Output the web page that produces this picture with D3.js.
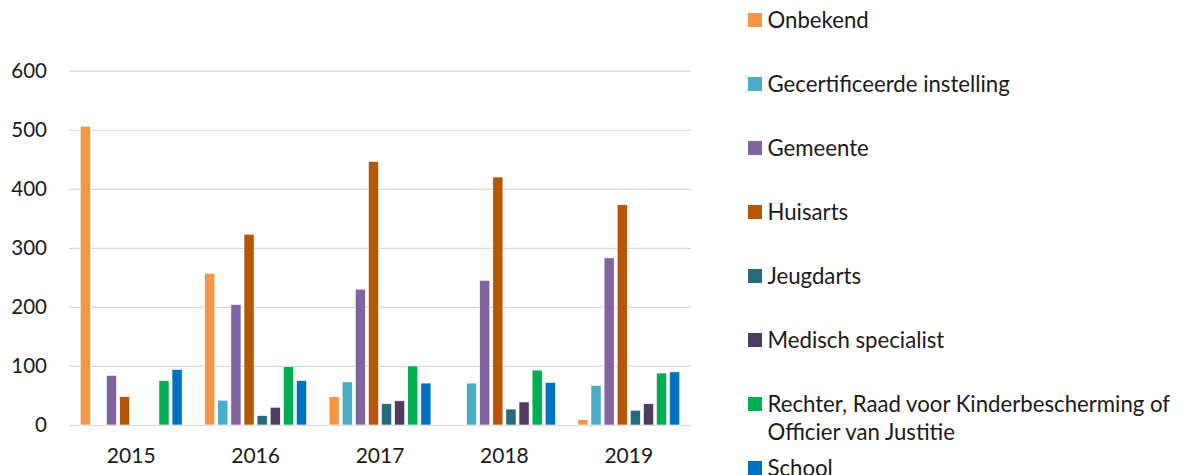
<!DOCTYPE html>
<html>
<head>
<meta charset="utf-8">
<script src="https://cdn.jsdelivr.net/npm/d3@7"></script>
<style>
  body { margin: 0; background: #fff; }
  text { font-family: Lato, "Open Sans", sans-serif; fill: #1a1a1a; }
</style>
</head>
<body>
<div id="container"></div>
<script>
// Data.
const years = ['2015', '2016', '2017', '2018', '2019'];
const series = [
  'Onbekend',
  'Gecertificeerde instelling',
  'Gemeente',
  'Huisarts',
  'Jeugdarts',
  'Medisch specialist',
  'Rechter, Raad voor Kinderbescherming of Officier van Justitie',
  'School'
];
const colours = ['#F79646', '#4BACC6', '#8064A2', '#B65708', '#276A7C', '#4D3B62', '#00B050', '#0070C0'];

// one array per series, values for 2015..2019
const onbekend = [506, 257, 48, 0, 9];
const gecertificeerd = [0, 42, 73, 71, 67];
const gemeente = [84, 204, 230, 245, 283];
const huisarts = [48, 323, 446, 420, 373];
const jeugdarts = [0, 16, 36, 27, 25];
const medisch = [0, 30, 41, 39, 36];
const rechter = [75, 99, 100, 93, 88];
const school = [94, 75, 71, 72, 90];
const values = [onbekend, gecertificeerd, gemeente, huisarts, jeugdarts, medisch, rechter, school];

const yTicks = [0, 100, 200, 300, 400, 500, 600];

const width = 1185, height = 475;
const plot = { left: 69, right: 691, top: 70.7, bottom: 425 };

const svg = d3.select('#container')
  .append('svg')
  .attr('width', width)
  .attr('height', height);

// Scales.
const x0 = d3.scaleBand()
  .domain(years)
  .range([plot.left, plot.right])
  .paddingInner(0.157)
  .paddingOuter(0.0785);

const x1 = d3.scaleBand()
  .domain(series)
  .range([0, x0.bandwidth()])
  .paddingInner(0.23)
  .paddingOuter(0.115);

const y = d3.scaleLinear()
  .domain([0, 600])
  .range([plot.bottom, plot.top]);

const colour = d3.scaleOrdinal().domain(series).range(colours);

// Gridlines + y labels.
const yAxis = svg.append('g')
  .attr('transform', `translate(${plot.left},0)`)
  .call(d3.axisLeft(y).tickValues(yTicks).tickSize(-(plot.right - plot.left)).tickPadding(22));
yAxis.select('.domain').remove();
yAxis.selectAll('.tick line').attr('stroke', '#d9d9d9').attr('stroke-width', 1.2);
yAxis.selectAll('.tick text')
  .attr('font-size', 20.5)
  .attr('font-family', 'Lato, sans-serif')
  .attr('fill', '#1a1a1a');

// X labels.
const xAxis = svg.append('g')
  .attr('transform', `translate(0,${plot.bottom})`)
  .call(d3.axisBottom(x0).tickSize(0).tickPadding(23));
xAxis.select('.domain').remove();
xAxis.selectAll('.tick text')
  .attr('font-size', 21)
  .attr('font-family', 'Lato, sans-serif')
  .attr('fill', '#1a1a1a');

// Bars.
const rows = years.map((yr, i) => ({
  year: yr,
  bars: series.map((s, j) => ({ key: s, value: values[j][i] }))
}));

svg.append('g')
  .selectAll('g')
  .data(rows)
  .join('g')
  .attr('transform', d => `translate(${x0(d.year)},0)`)
  .selectAll('rect')
  .data(d => d.bars.filter(b => b.value > 0))
  .join('rect')
  .attr('x', d => x1(d.key))
  .attr('y', d => y(d.value))
  .attr('width', x1.bandwidth())
  .attr('height', d => y(0) - y(d.value))
  .attr('fill', d => colour(d.key))
  .attr('stroke', '#fff')
  .attr('stroke-width', 0.6);

// Legend.
const legend = svg.append('g').attr('transform', 'translate(748,20)');
const item = legend.selectAll('g')
  .data(series)
  .join('g')
  .attr('transform', (d, i) => `translate(0,${i * 64})`);

item.append('rect')
  .attr('x', 0)
  .attr('y', -7)
  .attr('width', 14)
  .attr('height', 14)
  .attr('fill', d => colour(d));

item.append('text')
  .attr('x', 19.5)
  .attr('dy', '0.35em')
  .attr('font-size', 22.2)
  .each(function(d) {
    // wrap long labels
    const t = d3.select(this);
    const words = d.split(' ');
    let line = [], tspan = t.append('tspan').attr('x', 19.5);
    words.forEach(w => {
      line.push(w);
      tspan.text(line.join(' '));
      if (tspan.node().getComputedTextLength() > 415 && line.length > 1) {
        line.pop();
        tspan.text(line.join(' '));
        line = [w];
        tspan = t.append('tspan').attr('x', 19.5).attr('dy', 28).text(w);
      }
    });
  });
</script>
</body>
</html>
